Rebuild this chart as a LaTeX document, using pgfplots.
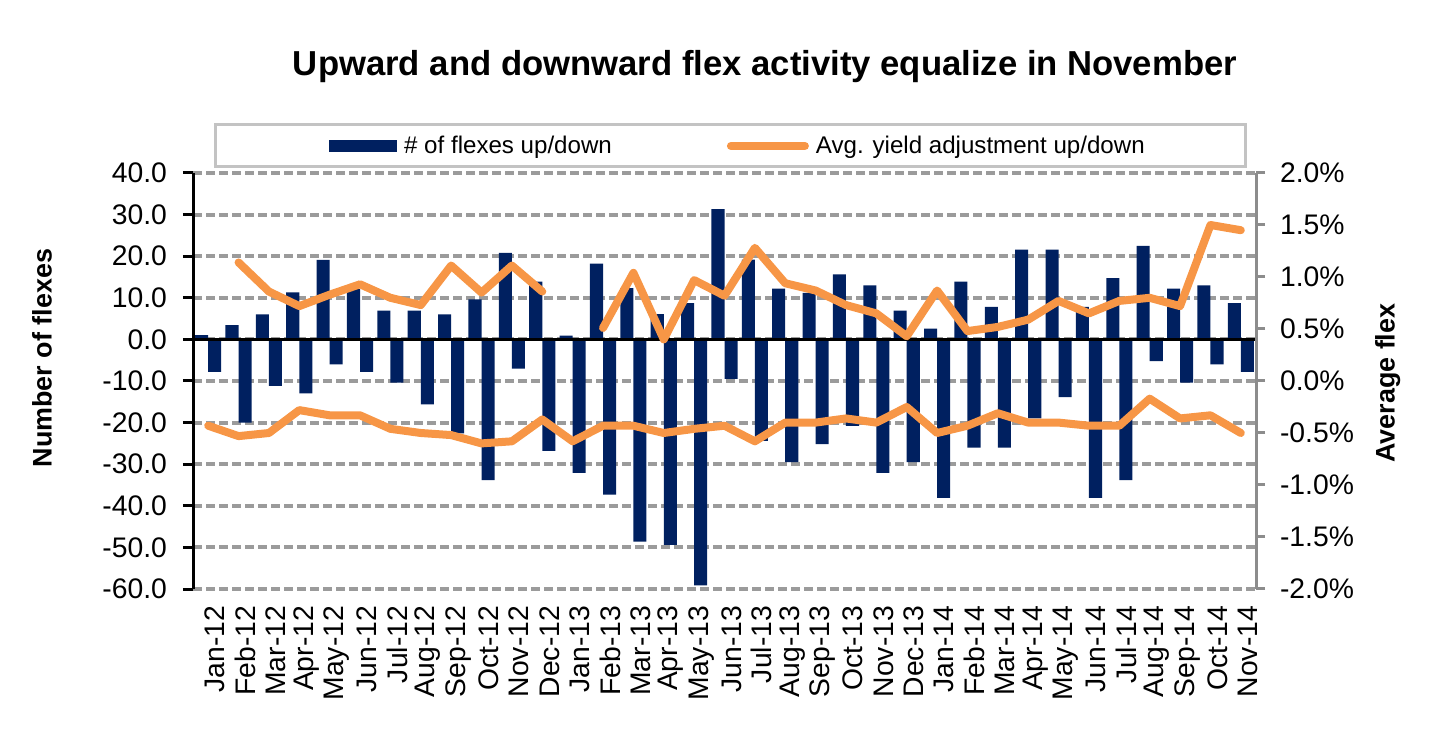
\documentclass[border=0pt]{standalone}
\usepackage{fontspec}
\setmainfont{Liberation Sans}
\usepackage{pgfplots}
\pgfplotsset{compat=1.18}
\usepackage{pgfplotstable}
\definecolor{navy}{RGB}{0,32,96}
\definecolor{flexorange}{RGB}{247,150,70}
\definecolor{gridgray}{RGB}{155,155,155}
\definecolor{raxis}{RGB}{140,140,140}
\definecolor{legbox}{RGB}{195,195,195}

\pgfplotstableread{
idx up down upl downl
0 1.0 -7.8 nan -0.43
1 3.4 -20.0 1.14 -0.53
2 6.0 -11.2 0.86 -0.50
3 11.3 -13.0 0.72 -0.28
4 19.1 -6.0 0.83 -0.33
5 12.1 -7.8 0.93 -0.33
6 6.9 -10.4 0.80 -0.46
7 6.9 -15.6 0.73 -0.50
8 6.0 -22.6 1.11 -0.52
9 9.6 -33.8 0.85 -0.60
10 20.8 -7.0 1.11 -0.58
11 13.9 -26.8 0.86 -0.37
12 0.9 -32.1 nan -0.58
13 18.2 -37.3 0.51 -0.43
14 12.3 -48.6 1.04 -0.43
15 6.1 -49.4 0.40 -0.50
16 8.7 -59.1 0.97 -0.46
17 31.3 -9.5 0.82 -0.43
18 19.2 -24.4 1.28 -0.58
19 12.2 -29.5 0.94 -0.40
20 11.2 -25.2 0.87 -0.40
21 15.6 -20.8 0.73 -0.36
22 13.0 -32.1 0.65 -0.40
23 6.9 -29.5 0.43 -0.25
24 2.6 -38.1 0.87 -0.50
25 13.9 -26.0 0.48 -0.43
26 7.8 -26.0 0.52 -0.31
27 21.6 -19.0 0.59 -0.40
28 21.6 -13.9 0.77 -0.40
29 7.8 -38.1 0.65 -0.43
30 14.7 -33.8 0.77 -0.43
31 22.5 -5.2 0.80 -0.17
32 12.2 -10.4 0.72 -0.36
33 13.0 -6.0 1.50 -0.33
34 8.7 -7.8 1.45 -0.50
}\flexdata

\begin{document}
\begin{tikzpicture}
\useasboundingbox (0bp,0bp) rectangle (725bp,369bp);
\node[font=\bfseries\fontsize{17.4}{20}\selectfont] at (382.5bp,335.5bp) {Upward and downward flex activity equalize in November};
\draw[legbox, line width=1.5bp] (107.5bp,285.5bp) rectangle (622.5bp,306.5bp);
\begin{axis}[
  at={(96.5bp,74.5bp)}, anchor=south west,
  scale only axis, width=531.5bp, height=208bp,
  xmin=-0.5, xmax=34.5, ymin=-60, ymax=40,
  ytick={-60,-50,-40,-30,-20,-10,0,10,20,30,40},
  xtick={0,...,34},
  xticklabels={Jan-12,Feb-12,Mar-12,Apr-12,May-12,Jun-12,Jul-12,Aug-12,Sep-12,Oct-12,Nov-12,Dec-12,Jan-13,Feb-13,Mar-13,Apr-13,May-13,Jun-13,Jul-13,Aug-13,Sep-13,Oct-13,Nov-13,Dec-13,Jan-14,Feb-14,Mar-14,Apr-14,May-14,Jun-14,Jul-14,Aug-14,Sep-14,Oct-14,Nov-14},
  axis x line*=bottom, axis y line*=left,
  x axis line style={draw=none},
  y axis line style={-, black, line width=1.5bp},
  xtick style={draw=none},
  ytick style={black, line width=1.5bp},
  tick align=outside, major tick length=5bp,
  tick label style={font=\fontsize{14.2}{15}\selectfont},
  /pgf/number format/assume math mode=true,
  yticklabel={\pgfmathprintnumber[fixed,fixed zerofill,precision=1]{\tick}},
  yticklabel style={xshift=-4.5bp},
  x tick label style={rotate=90, anchor=east, yshift=-3.5bp},
  ymajorgrids,
  grid style={gridgray, line width=2bp, dash pattern=on 4.3bp off 2.2bp},
  ylabel={Number of flexes},
  ylabel style={at={(axis description cs:-0.142,0.555)}, anchor=center, font=\bfseries\fontsize{13.5}{15}\selectfont},
  legend columns=2,
  legend style={at={(0.515,1.065)}, anchor=center, draw=none, fill=none,
    font=\fontsize{12.1}{14}\selectfont,
    nodes={inner xsep=3.5bp},
    /tikz/every even column/.append style={column sep=54bp}},
]
\addplot[ybar, bar width=0.43, bar shift=-0.215, fill=navy, draw=none,
  legend image code/.code={\fill[navy] (0bp,-3bp) rectangle (34bp,3bp);}]
  table[x=idx,y=up]{\flexdata};
\addlegendentry{\# of flexes up/down}
\addplot[ybar, bar width=0.43, bar shift=0.215, fill=navy, draw=none, forget plot]
  table[x=idx,y=down]{\flexdata};
\addlegendimage{legend image code/.code={\draw[flexorange, line width=4bp, line cap=round] (0bp,0bp) -- (37bp,0bp);}}
\addlegendentry{Avg. yield adjustment up/down}
\draw[black, line width=1.5bp] (axis cs:-0.5,0) -- (axis cs:34.5,0);
\end{axis}
\begin{axis}[
  at={(96.5bp,74.5bp)}, anchor=south west,
  scale only axis, width=531.5bp, height=208bp,
  xmin=-0.5, xmax=34.5, ymin=-2, ymax=2,
  ytick={-2,-1.5,-1,-0.5,0,0.5,1,1.5,2},
  axis x line=none, axis y line*=right,
  y axis line style={-, raxis, line width=1.5bp},
  ytick style={raxis, line width=1.5bp},
  tick align=outside, major tick length=4.5bp,
  tick label style={font=\fontsize{14.2}{15}\selectfont},
  yticklabel style={xshift=4bp},
  /pgf/number format/assume math mode=true,
  yticklabel={\pgfmathprintnumber[fixed,fixed zerofill,precision=1]{\tick}\%},
  ylabel={Average flex},
  ylabel style={at={(axis description cs:1.124,0.495)}, anchor=center, rotate=0, font=\bfseries\fontsize{13.5}{15}\selectfont},
  unbounded coords=jump,
]
\addplot[flexorange, line width=4bp, line cap=round, line join=round] table[x=idx,y=upl]{\flexdata};
\addplot[flexorange, line width=4bp, line cap=round, line join=round] table[x=idx,y=downl]{\flexdata};
\end{axis}
\end{tikzpicture}
\end{document}
